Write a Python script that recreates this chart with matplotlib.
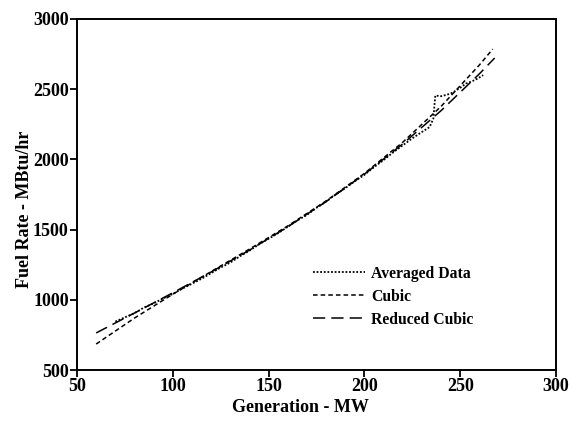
import matplotlib
matplotlib.use("Agg")
import matplotlib.pyplot as plt

# Averaged data
avg_x = [70, 75, 80, 85, 90, 95, 100, 105, 110, 115, 120, 125, 130, 135, 140, 145,
         150, 155, 160, 165, 170, 175, 180, 185, 190, 195, 200, 205, 210, 215, 220,
         225, 230, 234, 236, 237, 240, 243, 246, 250, 253, 256, 259, 262]
avg_y = [845, 875, 905, 945, 975, 1010, 1042, 1080, 1115, 1150, 1190, 1230, 1265,
         1310, 1350, 1395, 1435, 1475, 1520, 1565, 1605, 1655, 1700, 1750, 1795,
         1845, 1890, 1945, 1995, 2050, 2100, 2150, 2195, 2230, 2290, 2455, 2450,
         2460, 2475, 2510, 2540, 2555, 2575, 2600]

# Cubic fit curve
cub_x = [60, 80, 100, 120, 140, 160, 180, 200, 220, 240, 260, 267]
cub_y = [685, 870, 1040, 1201, 1361, 1526, 1704, 1900, 2122, 2377, 2672, 2786]

# Reduced cubic fit curve
red_x = [60, 80, 100, 120, 140, 160, 180, 200, 220, 240, 260, 268]
red_y = [764, 906, 1050, 1198, 1354, 1520, 1699, 1895, 2110, 2347, 2609, 2722]

xticks = [50, 100, 150, 200, 250, 300]
yticks = [500, 1000, 1500, 2000, 2500, 3000]

plt.rcParams['font.family'] = ['Liberation Serif', 'DejaVu Serif']

fig = plt.figure(figsize=(5.73, 4.21), dpi=100)
ax = fig.add_axes([0.1344, 0.1211, 0.8359, 0.8338])

ax.plot(avg_x, avg_y, color='black', lw=1.3, linestyle=(0, (1, 1)), label='Averaged Data')
ax.plot(cub_x, cub_y, color='black', lw=1.1, linestyle=(0, (3, 2)), label='Cubic')
ax.plot(red_x, red_y, color='black', lw=1.1, linestyle=(0, (8, 4)), label='Reduced Cubic')

ax.set_xlim(50, 300)
ax.set_ylim(500, 3000)
ax.set_xticks(xticks)
ax.set_yticks(yticks)
ax.tick_params(direction='out', length=5, width=1.3, labelsize=13, pad=1)
for lbl in ax.get_xticklabels() + ax.get_yticklabels():
    lbl.set_fontweight('bold')
for sp in ax.spines.values():
    sp.set_linewidth(1.4)

ax.set_xlabel('Generation - MW', fontsize=13, fontweight='bold')
ax.set_ylabel('Fuel Rate - MBtu/hr', fontsize=13, fontweight='bold')
ax.xaxis.set_label_coords(0.466, -0.082)
ax.yaxis.set_label_coords(-0.092, 0.459)

leg = ax.legend(loc='upper left', bbox_to_anchor=(0.48, 0.315), frameon=False,
                prop={'weight': 'bold', 'size': 11.3}, handlelength=3.3,
                handletextpad=0.4, labelspacing=0.45, borderaxespad=0)

fig.savefig('out.png', dpi=100)
